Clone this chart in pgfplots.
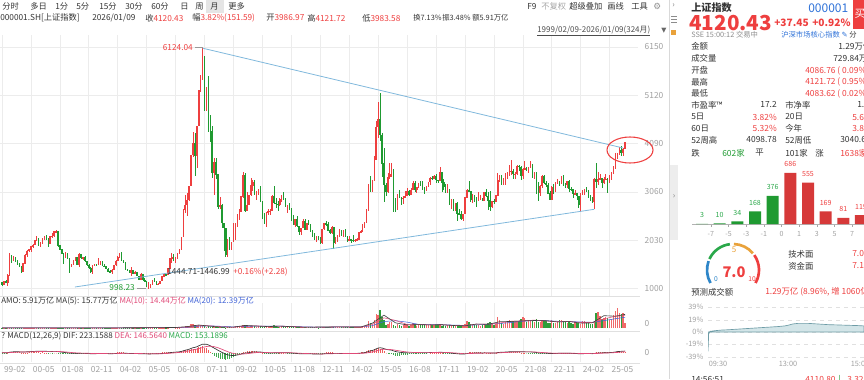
\documentclass[border=0pt]{standalone}
\usepackage{pgfplots}
\pgfplotsset{compat=1.18}
\usepackage{pgfplotstable}
\usepackage{fontspec}
\setmainfont{Noto Sans CJK SC}
\newfontfamily\dejavu{DejaVu Sans}
\definecolor{cup}{HTML}{EE3F3F}
\definecolor{cdn}{HTML}{1F9A31}
\definecolor{vup}{HTML}{F06A6A}
\definecolor{vdn}{HTML}{2E9E3A}
\definecolor{gridc}{HTML}{ECECEC}
\definecolor{tickc}{HTML}{A0A0A0}
\definecolor{tl}{HTML}{80B8DC}
\definecolor{txt}{HTML}{333333}
\definecolor{blu}{HTML}{2F72D8}
\definecolor{ma10}{HTML}{E04A78}
\definecolor{ma20}{HTML}{4062D6}
\definecolor{org}{HTML}{E9A23B}
\definecolor{gblue}{HTML}{2E86C8}
\definecolor{ggreen}{HTML}{2AA84A}
\definecolor{teal1}{HTML}{6E9CA6}
\definecolor{teal2}{HTML}{D3E5E8}
\newcommand\fs[1]{\fontsize{#1}{#1}\selectfont}

\pgfplotstableread{
m o c h l v dif dea hist
0 1135 1090 1140 1064 0.1 20 25 -10
1 1090 1158 1166 1083 0.1 22 24 -4
2 1158 1120 1180 1110 0.1 20 23 -6
3 1120 1279 1300 1047 0.2 35 25 20
4 1279 1690 1756 1270 0.4 85 37 96
5 1690 1601 1725 1540 0.3 115 53 124
6 1601 1640 1700 1580 0.2 135 69 132
7 1640 1585 1680 1560 0.2 142 84 116
8 1585 1520 1600 1500 0.1 140 95 90
9 1520 1460 1540 1450 0.1 130 102 56
10 1460 1367 1470 1341 0.1 112 104 16
11 1367 1535 1540 1361 0.2 110 105 10
12 1535 1714 1730 1530 0.3 120 108 24
13 1714 1800 1820 1680 0.4 135 113 44
14 1800 1836 1850 1775 0.3 148 120 56
15 1836 1894 1900 1780 0.3 160 128 64
16 1894 1928 1955 1870 0.3 170 137 66
17 1928 2023 2030 1920 0.3 185 146 78
18 2023 2070 2114 2010 0.3 198 157 104
19 2070 1911 2084 1900 0.2 195 164 62
20 1911 1961 1990 1880 0.2 192 170 44
21 1961 2070 2085 1950 0.3 195 175 50
22 2070 2073 2125 2040 0.3 196 179 34
23 2073 2065 2132 2040 0.2 193 182 22
24 2065 1960 2080 1894 0.2 180 182 -4
25 1960 2112 2120 1950 0.3 180 181 -2
26 2112 2119 2181 2080 0.3 178 181 -6
27 2119 2214 2232 2100 0.3 182 181 2
28 2214 2218 2245 2190 0.2 183 182 2
29 2218 1921 2230 1890 0.2 155 176 -42
30 1921 1834 1930 1820 0.2 125 166 -82
31 1834 1750 1840 1740 0.2 92 151 -118
32 1750 1690 1760 1514 0.2 60 133 -146
33 1690 1748 1770 1660 0.2 38 114 -152
34 1748 1646 1760 1630 0.2 12 94 -164
35 1646 1491 1660 1339 0.2 -20 71 -182
36 1491 1524 1530 1460 0.1 -42 48 -180
37 1524 1603 1615 1500 0.2 -52 28 -160
38 1603 1667 1680 1590 0.2 -54 12 -132
39 1667 1515 1680 1500 0.1 -66 -3 -126
40 1515 1732 1748 1455 0.3 -58 -14 -88
41 1732 1651 1742 1640 0.2 -58 -23 -70
42 1651 1669 1680 1610 0.2 -56 -30 -52
43 1669 1581 1690 1570 0.1 -62 -36 -52
44 1581 1507 1590 1490 0.1 -72 -43 -58
45 1507 1437 1520 1420 0.1 -86 -52 -68
46 1437 1357 1450 1339 0.1 -102 -62 -80
47 1357 1499 1500 1311 0.2 -100 -70 -60
48 1499 1512 1520 1480 0.1 -96 -75 -42
49 1512 1510 1530 1480 0.2 -92 -78 -28
50 1510 1521 1650 1500 0.3 -88 -80 -16
51 1521 1576 1580 1510 0.2 -80 -80 0
52 1576 1487 1590 1470 0.2 -80 -80 0
53 1487 1476 1520 1460 0.1 -80 -80 0
54 1476 1421 1490 1410 0.1 -84 -81 -6
55 1421 1367 1430 1360 0.1 -92 -83 -18
56 1367 1348 1400 1340 0.1 -100 -86 -28
57 1348 1397 1410 1307 0.1 -100 -89 -22
58 1397 1497 1500 1390 0.2 -90 -89 -2
59 1497 1590 1600 1490 0.2 -74 -86 24
60 1590 1675 1690 1585 0.3 -55 -80 50
61 1675 1742 1760 1650 0.3 -34 -71 74
62 1742 1595 1783 1580 0.3 -30 -63 66
63 1595 1555 1610 1540 0.2 -30 -56 52
64 1555 1399 1570 1390 0.1 -42 -53 22
65 1399 1386 1420 1370 0.1 -52 -53 2
66 1386 1342 1400 1330 0.1 -63 -55 -16
67 1342 1396 1460 1260 0.2 -66 -57 -18
68 1396 1320 1400 1300 0.1 -74 -60 -28
69 1320 1340 1370 1300 0.1 -78 -64 -28
70 1340 1266 1345 1259 0.1 -86 -68 -36
71 1266 1191 1270 1177 0.1 -97 -74 -46
72 1191 1306 1330 1180 0.1 -96 -78 -36
73 1306 1181 1310 1170 0.1 -104 -83 -42
74 1181 1159 1230 1130 0.1 -110 -89 -42
75 1159 1060 1170 1043 0.1 -120 -95 -50
76 1060 1080 1150 998 0.2 -124 -101 -46
77 1080 1083 1100 1004 0.1 -124 -106 -36
78 1083 1162 1190 1080 0.2 -116 -108 -16
79 1162 1155 1225 1140 0.2 -108 -108 0
80 1155 1092 1160 1070 0.1 -104 -107 6
81 1092 1099 1110 1074 0.1 -98 -105 14
82 1099 1161 1170 1090 0.2 -86 -101 30
83 1161 1258 1260 1160 0.2 -68 -95 54
84 1258 1299 1310 1240 0.3 -50 -86 72
85 1299 1298 1310 1260 0.2 -36 -76 80
86 1298 1440 1445 1290 0.4 -12 -63 102
87 1440 1641 1655 1420 0.8 24 -46 140
88 1641 1672 1757 1545 0.8 55 -26 162
89 1672 1612 1745 1580 0.6 75 -6 162
90 1612 1658 1670 1541 0.4 93 14 158
91 1658 1752 1760 1640 0.5 113 34 158
92 1752 1837 1850 1740 0.5 136 54 164
93 1837 2099 2100 1830 1.0 182 80 204
94 2099 2675 2700 2090 1.6 260 116 288
95 2675 2786 2995 2600 2.5 326 158 336
96 2786 2881 3040 2541 1.8 380 202 356
97 2881 3183 3190 2870 2.7 443 250 386
98 3183 3841 3850 3180 4.4 537 307 460
99 3841 4109 4335 3800 4.6 629 371 516
100 4109 3820 4311 3404 3.2 669 410 518
101 3820 4471 4471 3563 2.8 744 457 574
102 4471 5218 5219 4460 3.8 853 520 666
103 5218 5552 5560 5200 2.9 958 590 736
104 5552 5955 6124 5440 2.3 1060 660 800
105 5955 4871 5900 4779 2.0 1040 720 640
106 4871 5262 5300 4778 1.7 1040 770 540
107 5262 4383 5523 4330 2.0 960 800 320
108 4383 4348 4696 4123 1.1 860 810 100
109 4348 3473 4473 3357 1.5 700 790 -180
110 3473 3693 3786 2991 1.6 580 750 -340
111 3693 3433 3786 3333 1.5 460 690 -460
112 3433 2736 3440 2695 0.9 310 620 -620
113 2736 2775 2952 2690 0.9 190 530 -680
114 2775 2397 2800 2284 0.6 65 440 -750
115 2397 2293 2405 1802 0.8 -42 340 -764
116 2293 1729 2300 1664 0.5 -160 240 -800
117 1729 1871 2060 1678 0.7 -230 150 -760
118 1871 1821 2100 1814 0.8 -285 60 -690
119 1821 1991 2000 1844 0.6 -310 -9 -602
120 1991 2082 2402 1990 1.5 -316 -70 -492
121 2082 2373 2403 2037 2.0 -290 -114 -352
122 2373 2477 2579 2320 2.0 -250 -141 -218
123 2477 2633 2688 2460 1.9 -205 -154 -102
124 2633 2959 2982 2630 2.5 -140 -151 22
125 2959 3412 3478 2940 4.0 -55 -132 154
126 3412 2667 3454 2639 3.2 -30 -112 164
127 2667 2779 3068 2712 1.9 -6 -91 170
128 2779 2996 3000 2780 1.6 30 -67 194
129 2996 3195 3361 2980 2.8 74 -39 226
130 3195 3277 3320 3080 2.4 112 -9 242
131 3277 2989 3306 2986 2.2 116 16 200
132 2989 3051 3080 2890 1.3 122 37 170
133 3051 3110 3116 2986 2.2 128 55 146
134 3110 2871 3181 2851 2.0 112 67 90
135 2871 2592 2874 2481 1.6 76 69 14
136 2592 2398 2620 2383 1.2 30 61 -62
137 2398 2638 2640 2319 1.5 12 51 -78
138 2638 2639 2704 2570 2.0 -2 41 -86
139 2639 2656 2686 2574 1.4 -12 30 -84
140 2656 2979 3000 2655 2.5 6 25 -38
141 2979 2820 3186 2800 3.0 9 22 -26
142 2820 2808 2940 2721 2.0 10 20 -20
143 2808 2791 2860 2661 1.5 10 18 -16
144 2791 2905 2940 2750 1.5 20 18 4
145 2905 2928 3000 2840 2.2 30 21 18
146 2928 2911 3067 2880 2.0 35 24 22
147 2911 2743 2940 2730 1.6 25 24 2
148 2743 2762 2780 2610 1.4 18 23 -10
149 2762 2701 2826 2680 1.4 8 20 -24
150 2701 2567 2720 2437 1.5 -12 14 -52
151 2567 2359 2560 2350 1.0 -40 3 -86
152 2359 2468 2470 2307 0.9 -54 -8 -92
153 2468 2333 2536 2318 1.2 -72 -21 -102
154 2333 2199 2340 2134 0.8 -96 -36 -120
155 2199 2292 2300 2132 0.6 -106 -50 -112
156 2292 2428 2478 2280 1.4 -102 -60 -84
157 2428 2262 2478 2242 1.4 -110 -70 -80
158 2262 2396 2400 2242 1.1 -104 -77 -54
159 2396 2373 2453 2350 1.4 -100 -82 -36
160 2373 2225 2380 2210 0.9 -108 -87 -42
161 2225 2103 2240 2100 0.8 -124 -94 -60
162 2103 2047 2180 2040 0.8 -136 -103 -66
163 2047 2086 2120 1999 0.7 -140 -110 -60
164 2086 2069 2130 2040 0.5 -142 -117 -50
165 2069 1980 2090 1959 0.6 -150 -124 -52
166 1980 2269 2276 1949 1.2 -130 -125 -10
167 2269 2385 2394 2240 1.4 -104 -121 34
168 2385 2365 2444 2330 1.0 -84 -114 60
169 2365 2237 2420 2230 1.5 -78 -107 58
170 2237 2178 2265 2160 0.9 -76 -101 50
171 2178 2301 2334 2170 1.4 -64 -94 60
172 2301 1979 2313 1849 1.1 -80 -91 22
173 1979 1993 2090 1951 1.1 -90 -91 2
174 1993 2098 2150 1987 1.5 -88 -90 4
175 2098 2175 2270 2090 1.6 -78 -88 20
176 2175 2141 2242 2130 1.3 -72 -85 26
177 2141 2220 2245 2090 1.4 -60 -80 40
178 2220 2116 2260 2100 1.2 -58 -76 36
179 2116 2033 2120 1984 0.9 -62 -73 22
180 2033 2056 2110 2013 1.1 -62 -71 18
181 2056 2033 2060 1975 1.3 -64 -70 12
182 2033 2026 2150 1999 1.1 -64 -69 10
183 2026 2039 2062 1991 1.0 -62 -68 12
184 2039 2048 2070 2010 1.0 -58 -66 16
185 2048 2202 2203 2040 1.4 -40 -61 42
186 2202 2217 2248 2180 1.6 -24 -53 58
187 2217 2364 2369 2210 2.1 0 -42 84
188 2364 2420 2425 2290 2.2 30 -28 116
189 2420 2683 2683 2400 3.9 82 -6 176
190 2683 3235 3239 2660 8.6 178 31 294
191 3235 3210 3406 3050 5.8 245 74 342
192 3210 3310 3324 3050 3.5 302 119 366
193 3310 3748 3835 3300 9.5 380 171 418
194 3748 4442 4572 3740 16.5 490 235 510
195 4442 4612 4986 4200 15.0 585 305 560
196 4612 4277 5178 4141 20.5 620 368 504
197 4277 3664 4317 3373 13.0 590 412 356
198 3664 3206 4006 2850 9.5 520 434 172
199 3206 3053 3256 2983 4.0 435 434 2
200 3053 3383 3456 3039 5.0 390 425 -70
201 3383 3445 3684 3328 7.0 355 411 -112
202 3445 3539 3685 3375 6.5 330 395 -130
203 3539 2738 3539 2638 4.0 240 364 -248
204 2738 2688 2934 2638 2.7 164 324 -320
205 2688 3004 3018 2733 4.3 124 284 -320
206 3004 2938 3098 2925 3.7 86 244 -316
207 2938 2917 2950 2781 2.9 54 206 -304
208 2917 2930 2970 2807 3.4 30 171 -282
209 2930 2979 3070 2930 4.2 14 140 -252
210 2979 3085 3140 2977 4.4 10 114 -208
211 3085 3005 3100 2968 2.7 0 91 -182
212 3005 3100 3133 2995 3.1 0 73 -146
213 3100 3250 3301 3092 5.5 14 61 -94
214 3250 3104 3301 3056 4.6 14 52 -76
215 3104 3159 3174 3044 2.8 18 45 -54
216 3159 3242 3260 3142 3.3 26 41 -30
217 3242 3223 3291 3180 4.1 30 39 -18
218 3223 3155 3296 3111 3.2 28 37 -18
219 3155 3117 3171 3016 3.0 22 34 -24
220 3117 3192 3194 3081 3.0 24 32 -16
221 3192 3273 3277 3167 3.6 32 32 0
222 3273 3361 3372 3211 4.5 46 35 22
223 3361 3349 3391 3318 3.9 55 39 32
224 3349 3393 3416 3340 3.1 65 44 42
225 3393 3317 3450 3254 4.3 66 48 36
226 3317 3307 3316 3254 3.6 66 52 28
227 3307 3481 3587 3306 5.0 80 58 44
228 3481 3259 3495 3062 2.9 72 61 22
229 3259 3169 3334 3091 3.8 58 60 -4
230 3169 3082 3220 3041 2.9 38 56 -36
231 3082 3095 3219 3041 3.3 24 50 -52
232 3095 2847 3114 2782 3.0 -8 38 -92
233 2847 2876 2915 2691 3.0 -32 24 -112
234 2876 2725 2903 2653 2.6 -62 7 -138
235 2725 2821 2827 2644 2.0 -76 -10 -132
236 2821 2603 2838 2449 2.2 -104 -29 -150
237 2603 2588 2703 2560 3.1 -124 -48 -152
238 2588 2494 2650 2463 2.1 -146 -68 -156
239 2494 2585 2597 2440 2.5 -150 -84 -132
240 2585 2941 2961 2586 4.5 -120 -91 -58
241 2941 3091 3130 2930 7.7 -80 -89 18
242 3091 3078 3288 3068 6.9 -50 -81 62
243 3078 2898 3021 2838 4.3 -40 -73 66
244 2898 2979 3017 2822 3.9 -26 -64 76
245 2979 2932 2995 2844 3.8 -18 -55 74
246 2932 2886 2945 2733 4.0 -16 -47 62
247 2886 2905 3048 2880 4.0 -12 -40 56
248 2905 2929 2997 2891 2.9 -8 -34 52
249 2929 2871 2937 2857 3.3 -10 -29 38
250 2871 3050 3064 2857 4.4 4 -22 52
251 3050 2977 3127 2956 3.7 8 -16 48
252 2977 2880 3058 2685 6.0 4 -12 32
253 2880 2750 3074 2647 6.9 -8 -11 6
254 2750 2860 2867 2720 4.2 -10 -11 2
255 2860 2852 2915 2798 3.9 -12 -11 -2
256 2852 2985 3000 2835 4.6 -2 -9 14
257 2985 3310 3458 2984 12.4 34 0 68
258 3310 3396 3425 3273 9.3 66 13 106
259 3396 3218 3421 3202 6.1 78 26 104
260 3218 3225 3358 3220 4.9 86 38 96
261 3225 3392 3457 3209 7.2 104 51 106
262 3392 3473 3474 3325 7.0 122 65 114
263 3473 3483 3637 3400 8.9 134 79 110
264 3483 3509 3731 3417 7.1 144 92 104
265 3509 3442 3546 3329 8.5 142 102 80
266 3442 3447 3482 3332 6.8 138 109 58
267 3447 3615 3624 3414 7.6 146 116 60
268 3615 3591 3636 3515 8.6 150 123 54
269 3591 3397 3612 3312 10.5 134 125 18
270 3397 3544 3580 3343 12.6 132 126 12
271 3544 3568 3723 3540 11.2 130 127 6
272 3568 3547 3600 3515 6.9 126 127 -2
273 3547 3564 3592 3470 9.7 122 126 -8
274 3564 3640 3709 3560 9.4 124 126 -4
275 3640 3361 3652 3357 8.0 96 120 -48
276 3361 3462 3491 3345 6.4 80 112 -64
277 3462 3253 3487 3023 10.0 50 100 -100
278 3253 3047 3281 2863 7.3 8 82 -148
279 3047 3186 3197 2983 7.2 -14 63 -154
280 3186 3399 3424 3139 9.6 -10 48 -116
281 3399 3253 3419 3226 8.3 -20 34 -108
282 3253 3202 3296 3155 8.0 -32 21 -106
283 3202 3024 3247 3021 6.2 -54 6 -120
284 3024 2893 3086 2885 5.3 -78 -11 -134
285 2893 3151 3189 2885 8.8 -78 -24 -108
286 3151 3089 3226 3017 6.0 -82 -36 -92
287 3089 3256 3268 3064 5.8 -68 -42 -52
288 3256 3280 3340 3224 7.3 -54 -44 -20
289 3280 3273 3301 3192 9.0 -44 -44 0
290 3273 3323 3397 3227 8.8 -34 -42 16
291 3323 3205 3419 3189 7.9 -36 -41 10
292 3205 3202 3246 3134 7.0 -38 -40 4
293 3202 3291 3300 3151 6.3 -34 -39 10
294 3291 3120 3322 3053 7.3 -44 -40 -8
295 3120 3110 3160 3089 5.4 -50 -42 -16
296 3110 3018 3113 2923 4.6 -62 -46 -32
297 3018 3030 3097 3017 6.4 -70 -51 -38
298 3030 2975 3041 2882 5.6 -82 -57 -50
299 2975 2789 2973 2724 5.5 -106 -67 -78
300 2789 3015 3034 2635 5.2 -104 -74 -60
301 3015 3041 3091 2993 8.1 -98 -79 -38
302 3041 3105 3114 2995 7.6 -88 -81 -14
303 3105 3087 3174 3060 7.1 -80 -81 2
304 3087 2967 3094 2925 5.3 -82 -81 -2
305 2967 2939 3003 2865 5.2 -86 -82 -8
306 2939 2842 2940 2815 4.3 -96 -85 -22
307 2842 3336 3358 2689 8.4 -62 -80 36
308 3336 3279 3674 3152 17.5 -40 -72 64
309 3279 3326 3494 3204 18.5 -20 -62 84
310 3326 3352 3452 3326 14.0 -2 -50 96
311 3352 3251 3352 3141 10.0 4 -39 86
312 3251 3321 3385 3220 11.6 14 -28 84
313 3321 3336 3440 3312 12.4 24 -17 82
314 3336 3279 3358 3041 11.4 26 -8 68
315 3279 3347 3417 3260 9.3 34 1 66
316 3347 3444 3475 3321 10.5 48 10 76
317 3444 3573 3616 3440 15.6 74 23 102
318 3573 3858 3884 3545 20.0 115 41 148
319 3858 3883 3900 3770 23.0 148 62 172
320 3883 3955 4025 3856 17.0 176 85 182
321 3955 3889 4034 3815 16.0 190 106 168
322 3889 3969 3999 3815 17.0 208 126 164
323 3987 4120 4122 3984 5.91 223 147 153
}\kdata

\pgfplotstableread{
m ma5 ma10 ma20
0 0.1 0.1 0.1
30 0.2 0.2 0.2
60 0.2 0.2 0.2
90 0.6 0.5 0.4
96 1.6 1.2 0.8
102 3.5 3.0 2.1
108 2.0 2.5 2.5
114 1.0 1.3 1.9
120 1.0 1.0 1.3
126 3.0 2.4 1.8
132 2.3 2.4 2.2
138 1.6 1.9 2.1
144 2.2 2.3 2.1
150 1.5 1.7 1.9
156 1.0 1.1 1.4
162 1.1 1.1 1.1
168 1.2 1.1 1.1
174 1.3 1.3 1.2
180 1.1 1.2 1.2
186 1.2 1.2 1.2
192 5.6 4.1 2.7
198 14.9 11.8 7.5
204 6.0 8.8 8.5
210 3.5 4.1 6.8
216 3.9 4.1 4.2
222 3.6 3.6 3.9
228 3.8 3.8 3.8
234 2.9 3.0 3.4
240 2.5 2.7 3.0
246 4.6 4.6 3.6
252 4.3 4.5 4.4
258 7.3 5.8 5.2
264 7.6 7.9 6.4
270 8.3 8.2 7.9
276 8.7 9.2 8.6
282 8.4 8.2 8.6
288 7.0 7.3 7.8
294 7.5 7.6 7.6
300 5.7 6.4 7.0
306 5.9 6.4 6.6
312 14.3 10.6 8.5
318 13.7 13.6 10.8
323 15.8 14.4 12.4
}\madata

\pgfplotsset{
  kbase/.style={scale only axis, width=478.5pt, xmin=-1.037, xmax=329.7,
    anchor=north west,
    axis line style={draw=none}, tick style={draw=none},
    xtick={0,15,...,315}, xmajorgrids, grid style={gridc, line width=0.5pt},
    yticklabel pos=right, scaled ticks=false,
    ticklabel style={font=\fs{6.3}, text=tickc},
    yticklabel style={xshift=1.5pt},
    /pgf/number format/assume math mode=true,
    /pgf/number format/1000 sep={}},
  cwick/.style={draw=none, mark=none, forget plot,
    error bars/y dir=both, error bars/y explicit, error bars/error mark=none,
    error bars/error bar style={line width=0.45pt, draw=#1}},
  cbody/.style={draw=none, mark=none, forget plot,
    error bars/y dir=both, error bars/y explicit, error bars/error mark=none,
    error bars/error bar style={line width=1.15pt, line cap=butt, draw=#1}},
}

\begin{document}
\begin{tikzpicture}
\useasboundingbox (0pt,0pt) rectangle (648pt,-284.25pt);
\begin{scope}
\clip (0pt,0pt) rectangle (648pt,-284.25pt);

% ---------------- main candle chart ----------------
\begin{axis}[kbase, at={(0pt,-26.25pt)}, height=195.75pt,
  ymin=841, ymax=6405, ytick={1000,2030,3060,4090,5120,6150}, ymajorgrids,
  xticklabels={}]
\addplot[cwick=cup, restrict expr to domain={\thisrow{c}-\thisrow{o}}{0:100000}]
  table[x=m, y expr={(\thisrow{h}+\thisrow{l})/2}, y error expr={(\thisrow{h}-\thisrow{l})/2}] {\kdata};
\addplot[cwick=cdn, restrict expr to domain={\thisrow{c}-\thisrow{o}}{-100000:-0.001}]
  table[x=m, y expr={(\thisrow{h}+\thisrow{l})/2}, y error expr={(\thisrow{h}-\thisrow{l})/2}] {\kdata};
\addplot[cbody=cup, restrict expr to domain={\thisrow{c}-\thisrow{o}}{0:100000}]
  table[x=m, y expr={(\thisrow{o}+\thisrow{c})/2}, y error expr={abs(\thisrow{c}-\thisrow{o})/2+4}] {\kdata};
\addplot[cbody=cdn, restrict expr to domain={\thisrow{c}-\thisrow{o}}{-100000:-0.001}]
  table[x=m, y expr={(\thisrow{o}+\thisrow{c})/2}, y error expr={abs(\thisrow{c}-\thisrow{o})/2+4}] {\kdata};
% triangle lines
\addplot[tl, line width=0.6pt, forget plot] coordinates {(104,6124) (322,3996)};
\addplot[tl, line width=0.6pt, forget plot] coordinates {(37.8,1033) (307,2689)};
\end{axis}

% ---------------- volume ----------------
\begin{axis}[kbase, at={(0pt,-227.25pt)}, height=18.75pt,
  ymin=0, ymax=29, ytick={0}, xticklabels={}, yticklabel style={yshift=3pt}]
\addplot[ycomb, vup, line width=1.05pt, restrict expr to domain={\thisrow{c}-\thisrow{o}}{0:100000}]
  table[x=m, y=v] {\kdata};
\addplot[ycomb, vdn, line width=1.05pt, restrict expr to domain={\thisrow{c}-\thisrow{o}}{-100000:-0.001}]
  table[x=m, y=v] {\kdata};
\addplot[ma20, line width=0.4pt] table[x=m, y=ma20] {\madata};
\addplot[ma10, line width=0.4pt] table[x=m, y=ma10] {\madata};
\addplot[black!75, line width=0.45pt] table[x=m, y=ma5] {\madata};
\end{axis}

% ---------------- MACD ----------------
\begin{axis}[kbase, at={(0pt,-253.5pt)}, height=18pt,
  ymin=-1100, ymax=1800, ytick={0},
  xticklabels={99-02,00-05,01-08,02-11,04-02,05-05,06-08,07-11,09-02,10-05,11-08,12-11,14-02,15-05,16-08,17-11,19-02,20-05,21-08,22-11,24-02,25-05},
  xticklabel style={anchor=north west, xshift=-2pt}]
\addplot[ycomb, cup!85, line width=0.45pt, restrict y to domain=0:5000] table[x=m, y=hist] {\kdata};
\addplot[ycomb, cdn!85, line width=0.45pt, restrict y to domain=-5000:-0.001] table[x=m, y=hist] {\kdata};
\addplot[txt, line width=0.5pt] table[x=m, y=dif] {\kdata};
\addplot[ma10, line width=0.5pt] table[x=m, y=dea] {\kdata};
\end{axis}

% ---------------- right panel: distribution bars ----------------
\begin{axis}[at={(519pt,-168pt)}, anchor=south west, scale only axis,
  width=129pt, height=45pt, xmin=-0.566, xmax=9.17, ymin=0, ymax=805,
  clip=false, axis y line=none, axis x line*=bottom,
  x axis line style={draw=black!30, line width=0.4pt},
  xtick={0.5,1.5,...,8.5}, xticklabels={-7,-5,-3,-1,0,1,3,5,7},
  xtick align=outside, major tick length=2pt, tick style={draw=black!35, line width=0.4pt},
  ticklabel style={font=\fs{5.3}, text=tickc},
  /pgf/number format/assume math mode=true]
\addplot[ybar, bar width=9pt, bar shift=0pt, fill=cdn, draw=none,
  nodes near coords, nodes near coords style={font=\fs{5.3}, text=ggreen, yshift=1pt}]
  coordinates {(0,3) (1,10) (2,34) (3,168) (4,376)};
\addplot[ybar, bar width=9pt, bar shift=0pt, fill=cup!90!black, draw=none,
  nodes near coords, nodes near coords style={font=\fs{5.3}, text=cup, yshift=1pt}]
  coordinates {(5,686) (6,555) (7,169) (8,81) (9,119)};
\end{axis}

% ---------------- right panel: mini intraday chart ----------------
\begin{axis}[at={(531pt,-230.25pt)}, anchor=north west, scale only axis,
  width=120pt, height=37.5pt, xmin=0, xmax=240, ymin=-39, ymax=39,
  axis line style={draw=none}, tick style={draw=none}, xtick=\empty,
  ytick={-39,-19,0,19,39}, yticklabels={-39\%,-19\%,0\%,19\%,39\%},
  ymajorgrids, grid style={black!12, dashed, line width=0.4pt},
  ticklabel style={font=\fs{5.5}, text=tickc},
  /pgf/number format/assume math mode=true]
\addplot[draw=teal1, line width=0.5pt, fill=teal2] coordinates {
 (0,-30) (1,-3) (3,1) (10,2) (20,3) (30,3.5) (45,4.5) (60,5.5) (75,6.5) (90,7.5)
 (105,8.5) (115,9.5) (120,10.5) (127,12.5) (135,13.5) (150,13.5) (165,12.5)
 (180,11.5) (195,11) (210,10.5) (225,10) (234,9.5)} \closedcycle;
\end{axis}

% ---------------- gauge (explicit pt coordinates) ----------------
\draw[gblue, line width=2pt] ([shift={(210:19.5pt)}]549.75pt,-202.5pt) arc[start angle=210, end angle=160, radius=19.5pt];
\draw[ggreen, line width=2pt] ([shift={(155:19.5pt)}]549.75pt,-202.5pt) arc[start angle=155, end angle=97, radius=19.5pt];
\draw[org, line width=2pt] ([shift={(88:19.5pt)}]549.75pt,-202.5pt) arc[start angle=88, end angle=40, radius=19.5pt];
\draw[cup, line width=2pt] ([shift={(35:19.5pt)}]549.75pt,-202.5pt) arc[start angle=35, end angle=-30, radius=19.5pt];

% ---------------- text, decorations in pixel coordinates ----------------
\begin{scope}[x=0.75pt, y=-0.75pt, every node/.style={inner sep=0pt, text=txt}]
  % toolbar
  \fill[black!10] (206,0) rectangle (224,13);
  \foreach \xx/\tt in {2/分时, 30/多日, 55/1分, 76/5分, 99/15分, 125/30分, 151/60分, 180/日, 195/周, 210/月, 228/更多}
    \node[anchor=west, font=\fs{6.2}] at (\xx,6.5) {\tt};
  \node[anchor=west, font=\fs{6.2}] at (527,6.5) {F9};
  \node[anchor=west, font=\fs{6.2}, text=black!35] at (541,6.5) {不复权};
  \node[anchor=west, font=\fs{6.2}] at (569,6.5) {超级叠加};
  \node[anchor=west, font=\fs{6.2}] at (607,6.5) {画线};
  \node[anchor=west, font=\fs{6.2}] at (631,6.5) {工具};
  \node[anchor=west, font=\dejavu\fs{6.5}, text=black!45] at (653,6.5) {⚙};
  % info line
  \node[anchor=west, font=\fs{6.2}] at (0,18) {000001.SH[上证指数]};
  \node[anchor=west, font=\fs{6.2}] at (92,18) {2026/01/09};
  \node[anchor=west, font=\fs{6.2}] at (145,18) {收\textcolor{cup}{4120.43}};
  \node[anchor=west, font=\fs{6.2}] at (192,18) {幅\textcolor{cup}{3.82\%(151.59)}};
  \node[anchor=west, font=\fs{6.2}] at (266,18) {开\textcolor{cup}{3986.97}};
  \node[anchor=west, font=\fs{6.2}] at (307,18) {高\textcolor{cup}{4121.72}};
  \node[anchor=west, font=\fs{6.2}] at (362,18) {低\textcolor{cup}{3983.58}};
  \node[anchor=west, font=\fs{5.5}] at (413,18) {换7.13\%};
  \node[anchor=west, font=\fs{5.5}] at (442,18) {振3.48\%};
  \node[anchor=west, font=\fs{5.5}] at (472,18) {额5.91万亿};
  \node[anchor=west, font=\fs{6}, text=black!70] at (537,31) {\underline{1999/02/09-2026/01/09(324月)}};
  \node[anchor=west, font=\dejavu\fs{5}, text=black!60] at (661,30.5) {▼};
  % chart annotations
  \node[anchor=east, font=\fs{6.2}, text=cup] at (193,48) {6124.04};
  \draw[black!40, line width=0.4pt] (195,47.5) -- (203,47.5);
  \node[anchor=east, font=\fs{6.2}, text=cdn] at (135,287.5) {998.23};
  \draw[black!40, line width=0.4pt] (137,288) -- (146,288);
  \node[anchor=west, font=\fs{6.2}] at (167,272) {1444.71-1446.99};
  \node[anchor=west, font=\fs{6.2}, text=cup] at (233,272) {+0.16\%(+2.28)};
  \draw[cup, line width=0.8pt] (630,150) ellipse [x radius=23, y radius=13];
  % panel separators
  \draw[black!12, line width=0.4pt] (0,296) -- (640,296);
  \draw[black!12, line width=0.4pt] (0,331) -- (640,331);
  \draw[black!12, line width=0.4pt] (0,363) -- (640,363);
  % panel labels
  \node[anchor=west, font=\fs{6}] at (1,301) {AMO: 5.91万亿 MA(5): 15.77万亿 \textcolor{ma10}{MA(10): 14.44万亿} \textcolor{ma20}{MA(20): 12.39万亿}};
  \node[anchor=west, font=\fs{6}] at (1,336) {? MACD(12,26,9) DIF: 223.1588 \textcolor{ma10}{DEA: 146.5640} \textcolor{ggreen}{MACD: 153.1896}};
  % right panel separator and tabs
  \draw[black!15, line width=0.5pt] (669,0) -- (669,379);
  \node[font=\fs{6}, text=black!50] at (673.5,6) {›};
  \draw[black!45, line width=0.4pt] (671,16) -- (677,16) (671,19) -- (677,19) (671,22) -- (677,22);
  \fill[org] (671,30) rectangle (676,35);
  \fill[black!7] (670,165) rectangle (678,240);
  \node[font=\fs{6}, text=black!50] at (674,197) {›};
  % right panel header
  \node[anchor=west, font=\bfseries\fs{7.6}] at (691,8) {上证指数};
  \node[anchor=west, font=\fs{9}, text=blu] at (808,8) {000001};
  \fill[cup] (853,0) rectangle (866,29);
  \node[font=\fs{8}, text=white] at (860,14) {买};
  \node[anchor=west, font=\bfseries\fs{15.5}, text=cup] at (689,23) {4120.43};
  \node[anchor=west, font=\bfseries\fs{7.6}, text=cup] at (774,23) {+37.45};
  \node[anchor=west, font=\bfseries\fs{7.6}, text=cup] at (812,23) {+0.92\%};
  \node[anchor=west, font=\fs{5.5}, text=black!45] at (691,34.5) {SSE 15:00:12 交易中};
  \node[anchor=west, font=\fs{5.5}, text=blu] at (781,34.5) {沪深市场核心指数 {\dejavu ✎} \textcolor{txt}{分}};
  % right panel rows
  \node[anchor=west, font=\fs{6.3}] at (691,46) {金额};
  \node[anchor=west, font=\fs{6.3}] at (838,46) {1.29万亿};
  \node[anchor=west, font=\fs{6.3}] at (691,58.5) {成交量};
  \node[anchor=west, font=\fs{6.3}] at (833,58.5) {729.84万};
  \node[anchor=west, font=\fs{6.3}] at (691,70.5) {开盘};
  \node[anchor=west, font=\fs{6.3}, text=cup] at (805,70.5) {4086.76 ( 0.09\%)};
  \node[anchor=west, font=\fs{6.3}] at (691,82) {最高};
  \node[anchor=west, font=\fs{6.3}, text=cup] at (805,82) {4121.72 ( 0.95\%)};
  \node[anchor=west, font=\fs{6.3}] at (691,93.5) {最低};
  \node[anchor=west, font=\fs{6.3}, text=cup] at (805,93.5) {4083.62 ( 0.02\%)};
  \node[anchor=west, font=\fs{6.3}] at (691,105) {市盈率™};
  \node[anchor=east, font=\fs{6.3}] at (777,105) {17.2};
  \node[anchor=west, font=\fs{6.3}] at (785,105) {市净率};
  \node[anchor=west, font=\fs{6.3}] at (857,105) {1.5};
  \node[anchor=west, font=\fs{6.3}] at (691,117) {5日};
  \node[anchor=east, font=\fs{6.3}, text=cup] at (777,117) {3.82\%};
  \node[anchor=west, font=\fs{6.3}] at (785,117) {20日};
  \node[anchor=west, font=\fs{6.3}, text=cup] at (852,117) {5.64\%};
  \node[anchor=west, font=\fs{6.3}] at (691,128.5) {60日};
  \node[anchor=east, font=\fs{6.3}, text=cup] at (777,128.5) {5.32\%};
  \node[anchor=west, font=\fs{6.3}] at (785,128.5) {今年};
  \node[anchor=west, font=\fs{6.3}, text=cup] at (852,128.5) {3.82\%};
  \node[anchor=west, font=\fs{6.3}] at (691,140) {52周高};
  \node[anchor=east, font=\fs{6.3}] at (777,140) {4098.78};
  \node[anchor=west, font=\fs{6.3}] at (785,140) {52周低};
  \node[anchor=west, font=\fs{6.3}] at (840,140) {3040.69};
  \node[anchor=west, font=\fs{6.3}] at (691,153) {跌};
  \node[anchor=west, font=\fs{6.3}, text=cdn] at (722,153) {602家};
  \node[anchor=west, font=\fs{6.3}] at (755,153) {平};
  \node[anchor=west, font=\fs{6.3}] at (785,153) {101家};
  \node[anchor=west, font=\fs{6.3}] at (815,153) {涨};
  \node[anchor=west, font=\fs{6.3}, text=cup] at (840,153) {1638家};
  % gauge labels
  \node[font=\fs{6}, text=org] at (734,250) {5};
  \node[font=\bfseries\fs{11}, text=cup] at (734,272) {7.0};
  \node[font=\fs{5}, text=gblue] at (716,279) {0};
  \node[font=\fs{5}, text=cup] at (752,279) {10};
  \node[anchor=west, font=\fs{6.3}] at (788,254) {技术面};
  \node[anchor=west, font=\fs{6.3}, text=cup] at (852,254) {7.0};
  \node[anchor=west, font=\fs{6.3}] at (788,266) {资金面};
  \node[anchor=west, font=\fs{6.3}, text=cup] at (852,266) {7.1};
  % forecast row
  \node[anchor=west, font=\fs{6.3}] at (691,292) {预测成交额};
  \node[anchor=west, font=\fs{6.3}, text=cup] at (765,292) {1.29万亿 (8.96\%, 增 1060亿)};
  \node[font=\fs{5.5}, text=tickc] at (718,363.5) {09:30};
  \node[font=\fs{5.5}, text=tickc] at (788,363.5) {13:00};
  \node[font=\fs{5.5}, text=tickc] at (860,363.5) {15:00};
  % bottom row
  \node[anchor=west, font=\fs{6.3}] at (691,379) {14:56:51};
  \node[anchor=west, font=\fs{6.3}, text=cup] at (805,379) {4110.80\textcolor{cdn}{↓}};
  \node[anchor=west, font=\fs{6.3}, text=cup] at (847,379) {3.32};
\end{scope}
\end{scope}
\end{tikzpicture}
\end{document}
